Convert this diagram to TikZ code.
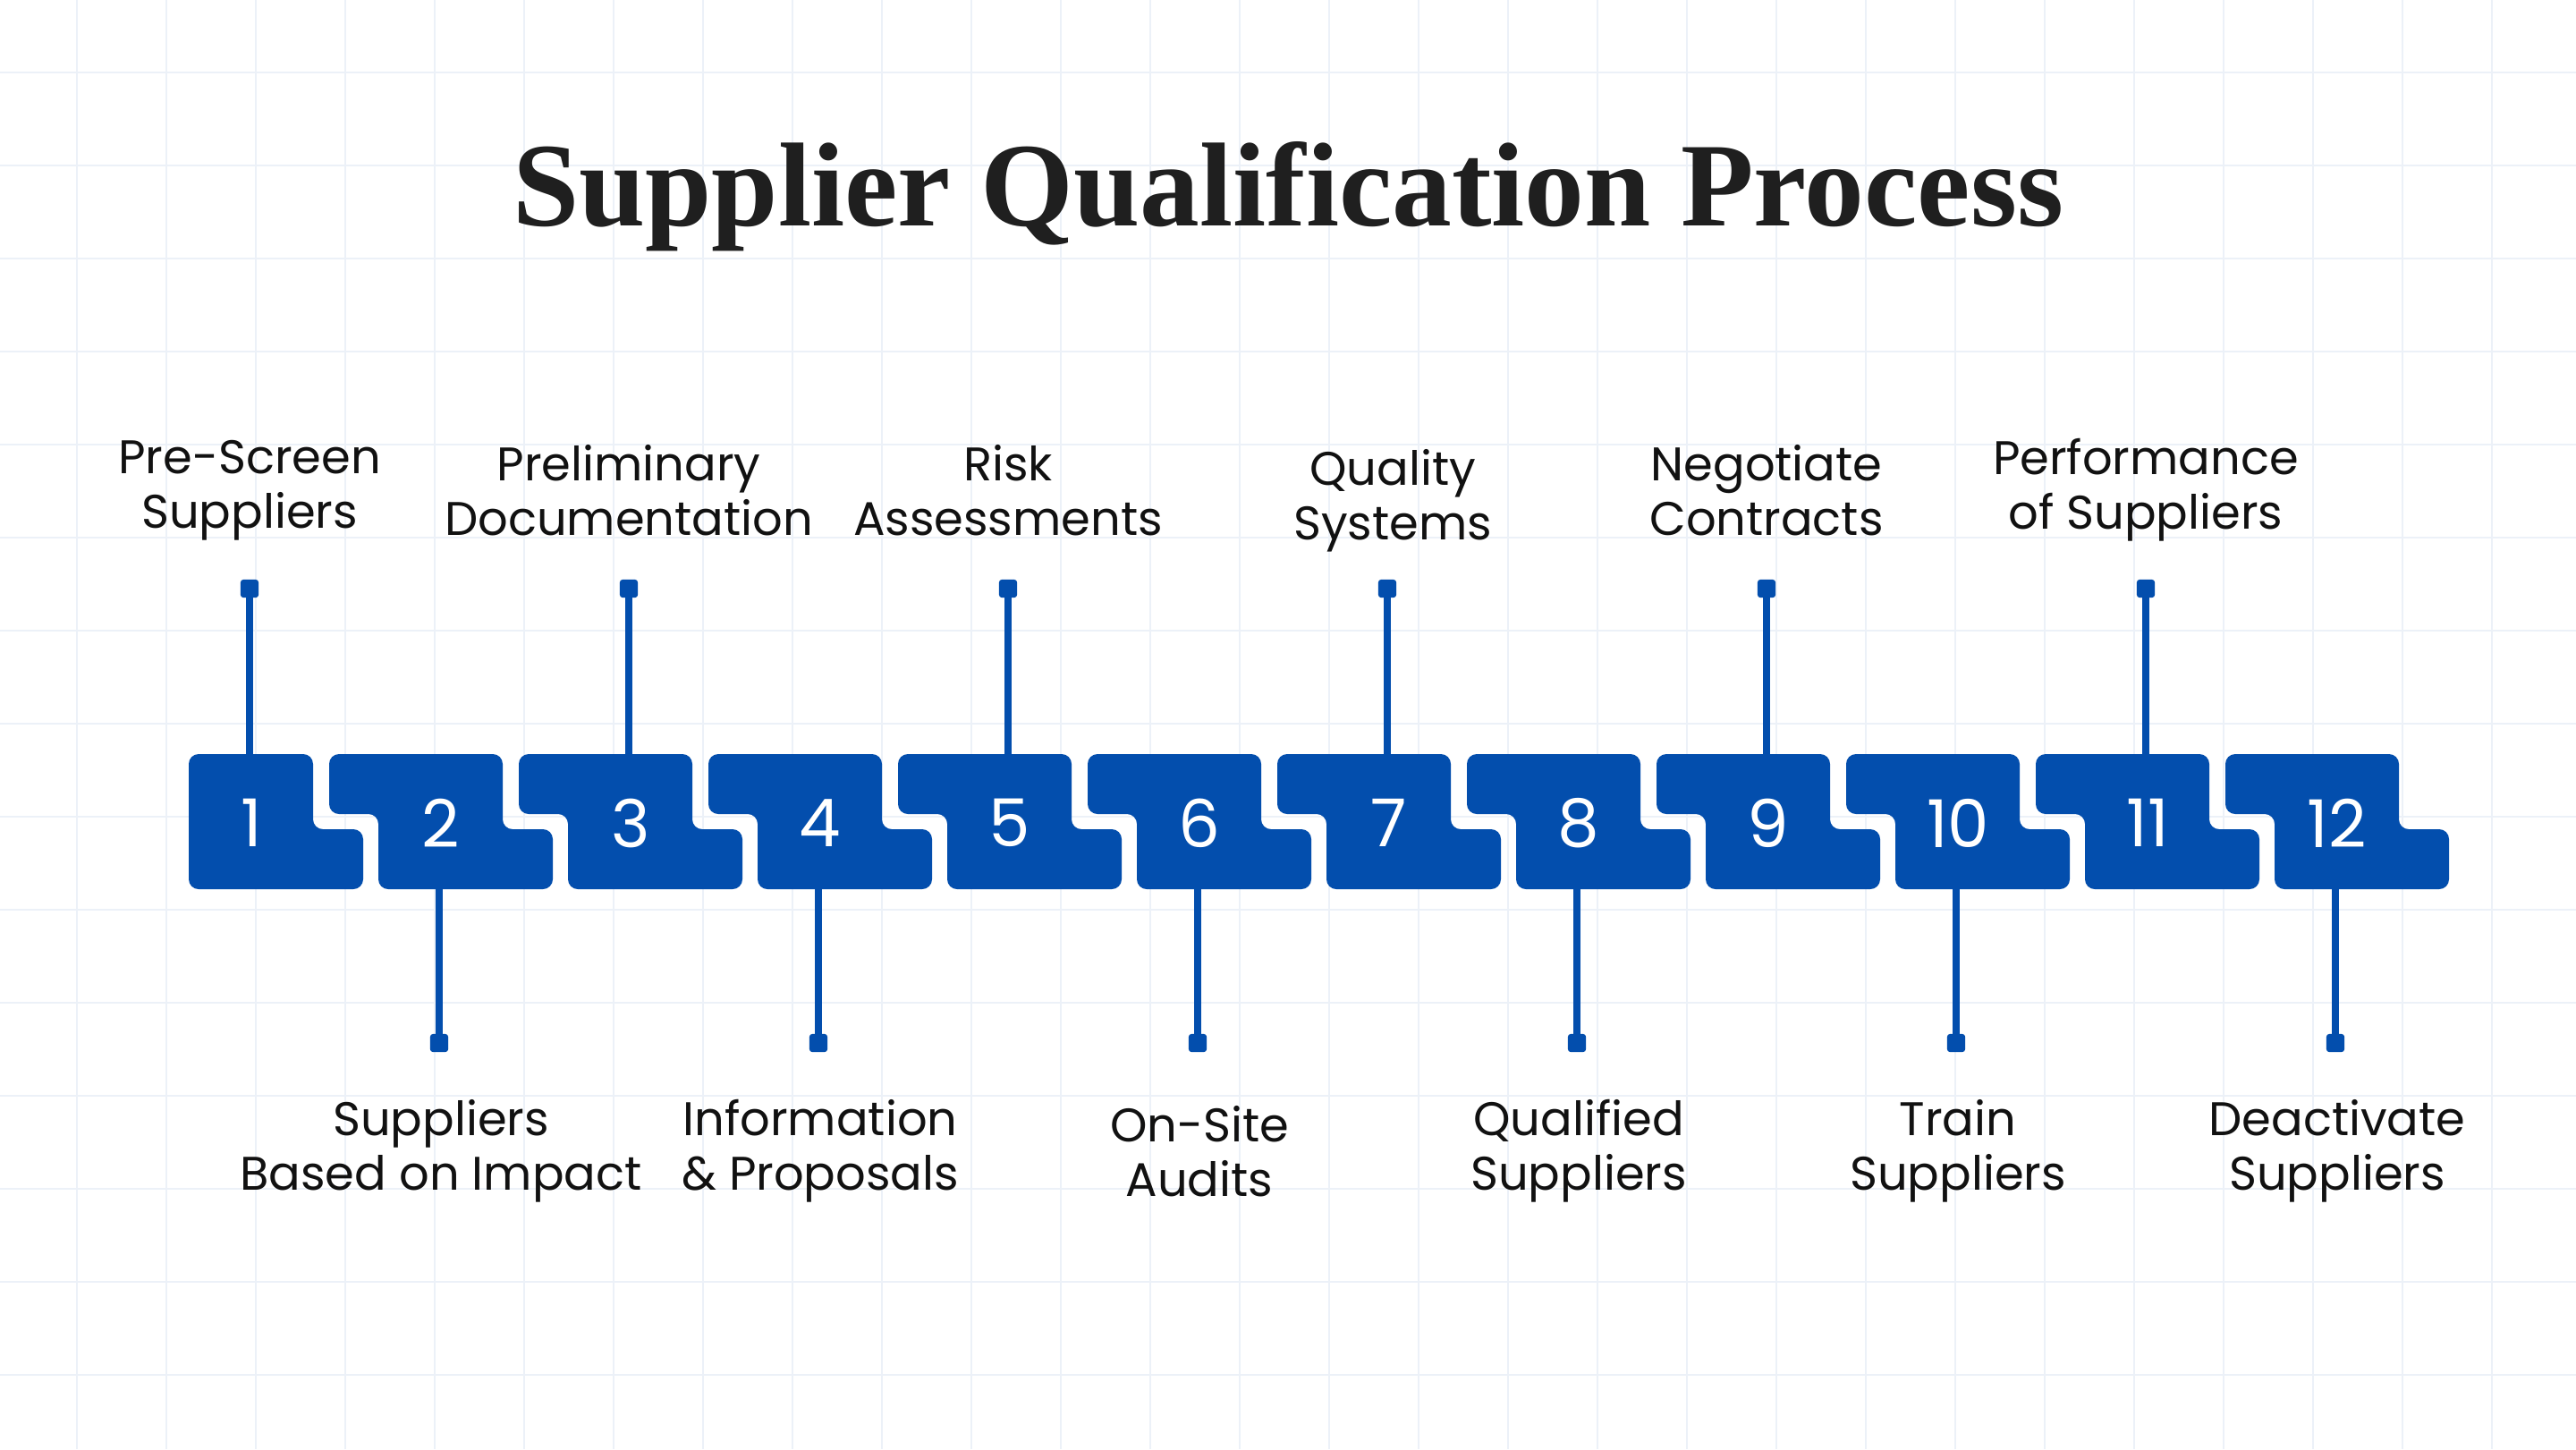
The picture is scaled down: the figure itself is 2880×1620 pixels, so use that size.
\documentclass[tikz,border=0pt]{standalone}
\usepackage{fontspec}
\setmainfont{Poppins}
\newfontfamily\titlefont{Liberation Serif}
\definecolor{pblue}{HTML}{034EAD}
\definecolor{gridc}{HTML}{ECF1F8}
\begin{document}
\begin{tikzpicture}[x=0.1mm,y=-0.1mm,
  blk/.style={fill=pblue,rounded corners=11pt*0.2845},
  stem/.style={draw=pblue,line width=2.3pt},
  mk/.style={fill=pblue,rounded corners=1pt,minimum size=5.8pt,inner sep=0pt},
  lab/.style={align=center,font=\fontsize{15}{17.4}\selectfont\color[HTML]{111111}},
  num/.style={text=white,font=\fontsize{21}{24}\selectfont}]
\fill[white] (0,0) rectangle (2880,1620);
\useasboundingbox (0,0) rectangle (2880,1620);
\foreach \x in {86,186,...,2880} \draw[gridc,line width=0.8pt] (\x,0) -- (\x,1620);
\foreach \y in {81,185,...,1620} \draw[gridc,line width=0.8pt] (0,\y) -- (2880,\y);
\node[font=\titlefont\bfseries\fontsize{38}{44}\selectfont,text=black!88] (title) at (1440,220) {Supplier Qualification Process};
\foreach \i/\t/\pos in {
 1/{Pre-Screen\\Suppliers}/t, 2/{Suppliers\\Based on Impact}/b,
 3/{Preliminary\\Documentation}/t, 4/{Information\\\& Proposals}/b,
 5/{Risk\\Assessments}/t, 6/{On-Site\\Audits}/b,
 7/{Quality\\Systems}/t, 8/{Qualified\\Suppliers}/b,
 9/{Negotiate\\Contracts}/t, 10/{Train\\Suppliers}/b,
 11/{Performance\\of Suppliers}/t, 12/{Deactivate\\Suppliers}/b}{
 \pgfmathsetmacro{\xo}{211+212*(\i-1)}
 \ifnum\i=1
   \fill[blk] (\xo,843) -- (\xo+139,843) -- (\xo+139,927) -- (\xo+195,927) -- (\xo+195,994) -- (\xo,994) -- cycle;
 \else
   \fill[blk] (\xo-55,843) -- (\xo+139,843) -- (\xo+139,927) -- (\xo+195,927) -- (\xo+195,994) -- (\xo,994) -- (\xo,910) -- (\xo-55,910) -- cycle;
 \fi
 \node[num] (n\i) at (\xo+70,920) {\i};
 \if t\pos
   \node[mk] (m\i) at (\xo+68,658) {};
   \coordinate (c\i) at (\xo+68,843);
   \draw[stem] (m\i.center) -- (c\i);
   \ifnum\i=7
     \node[lab] (l\i) at (\xo+74,560) {\t};
   \else
     \node[lab] (l\i) at (\xo+68,548) {\t};
   \fi
 \else
   \node[mk] (m\i) at (\xo+68,1166) {};
   \coordinate (c\i) at (\xo+68,994);
   \draw[stem] (c\i) -- (m\i.center);
   \node[lab] (l\i) at (\xo+70,1287) {\t};
 \fi
}
\end{tikzpicture}
\end{document}
